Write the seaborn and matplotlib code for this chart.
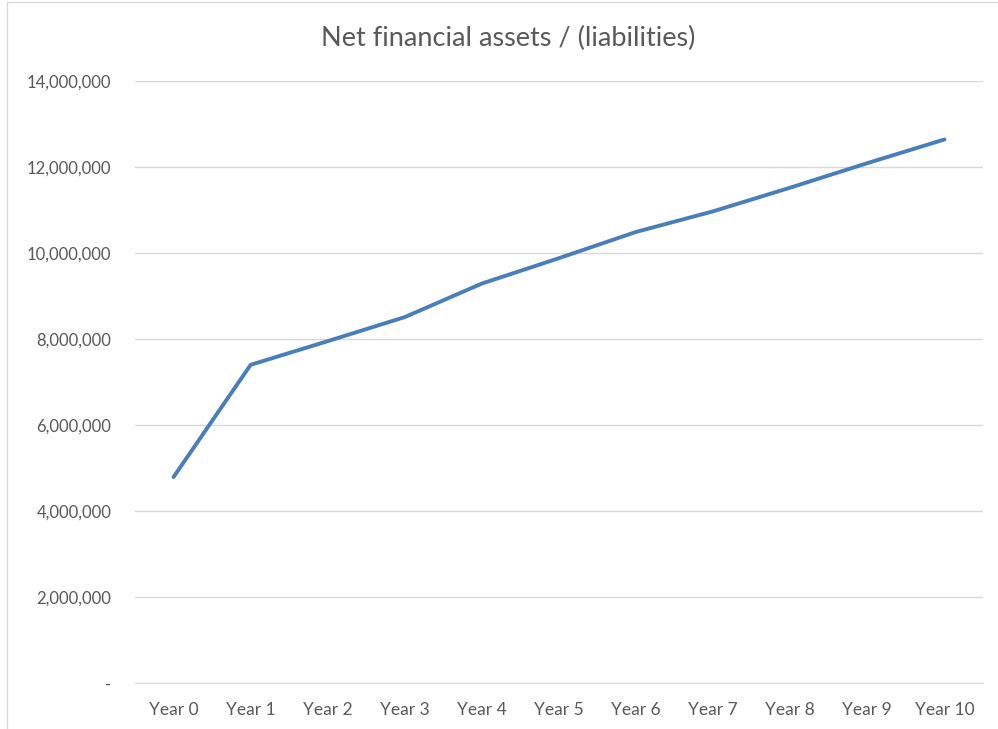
import matplotlib
matplotlib.use("Agg")
import matplotlib.pyplot as plt
from matplotlib.patches import Rectangle
from matplotlib.ticker import FuncFormatter
import seaborn as sns
import pandas as pd

# values
years = ["Year 0", "Year 1", "Year 2", "Year 3", "Year 4", "Year 5",
         "Year 6", "Year 7", "Year 8", "Year 9", "Year 10"]
net_assets = [4790000, 7400000, 7950000, 8510000, 9290000, 9880000,
              10490000, 10970000, 11520000, 12090000, 12640000]

df = pd.DataFrame({"year": years, "value": net_assets})

sns.set_style("white")
plt.rcParams['font.family'] = ['Lato', 'DejaVu Sans']

fig = plt.figure(figsize=(9.98, 7.29), dpi=100)
ax = fig.add_axes([135 / 998, 1 - 683 / 729, (983 - 135) / 998, (683 - 81) / 729])

sns.lineplot(data=df, x="year", y="value", ax=ax, color="#4a7ebb",
             linewidth=2.8, sort=False, solid_capstyle="round")

ax.set_xlim(-0.5, len(years) - 0.5)
ax.set_ylim(0, 14000000)
ax.set_yticks(range(0, 14000001, 2000000))
ax.yaxis.set_major_formatter(FuncFormatter(lambda v, p: "-" if v == 0 else f"{v:,.0f}"))
ax.grid(axis="y", color="#d9d9d9", linewidth=1)
ax.set_axisbelow(True)
for s in ["top", "right", "left"]:
    ax.spines[s].set_visible(False)
ax.spines["bottom"].set_color("#d9d9d9")
ax.tick_params(axis="y", length=0, labelsize=12, colors="#595959", pad=17)
ax.tick_params(axis="x", length=0, labelsize=12.5, colors="#595959", pad=14)
ax.set_xlabel("")
ax.set_ylabel("")

fig.text(508 / 998, 1 - 38 / 729, "Net financial assets / (liabilities)",
         ha="center", va="center", fontsize=19.5, color="#595959")

# chart area border (only top/left visible in the crop)
fig.patches.append(Rectangle((7 / 998, -0.1), 1.2, 1 - 2 / 729 + 0.1,
                             transform=fig.transFigure, fill=False,
                             edgecolor="#d9d9d9", linewidth=1))

fig.savefig("out.png", dpi=100)
